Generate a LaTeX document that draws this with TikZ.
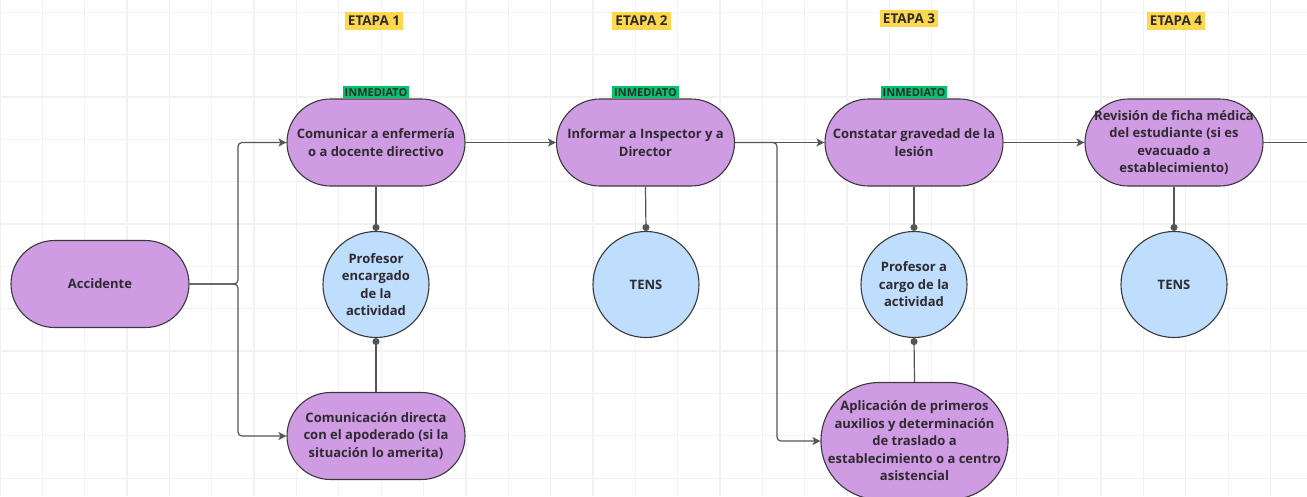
\documentclass[tikz,border=0pt]{standalone}
\usepackage{fontspec}
\setmainfont{Open Sans}
\usepackage{xcolor}
\usetikzlibrary{arrows.meta}

\definecolor{lilac}{HTML}{CF9BE3}
\definecolor{skyb}{HTML}{BFDDFC}
\definecolor{ambar}{HTML}{FFD84D}
\definecolor{verde}{HTML}{00C56B}
\definecolor{edgecol}{HTML}{3A3A3A}
\definecolor{linecol}{HTML}{555555}
\definecolor{txt}{HTML}{2E2A30}
\definecolor{gridcol}{HTML}{F2F2F2}

\begin{document}
\begin{tikzpicture}[x=1pt, y=-1pt,
  proc/.style={draw=edgecol, fill=lilac, line width=1.1pt, rounded corners=43.5pt,
    minimum width=178pt, minimum height=87pt, align=center, text=txt,
    font=\fontsize{13}{17.5}\selectfont\bfseries},
  role/.style={circle, draw=edgecol, fill=skyb, line width=1.1pt, minimum size=106pt,
    inner sep=0pt, align=center, text=txt, font=\fontsize{13}{17.5}\selectfont\bfseries},
  etapa/.style={fill=ambar, inner xsep=3pt, inner ysep=4pt, text=txt,
    font=\fontsize{13.5}{15}\selectfont\bfseries},
  tag/.style={fill=verde, inner xsep=2pt, inner ysep=2pt, text=txt,
    font=\fontsize{11}{13}\selectfont\bfseries},
  link/.style={draw=linecol, line width=1.2pt},
  arr/.style={link, rounded corners=4pt, -{Stealth[length=8pt, width=8pt, inset=2pt]}},
  dot/.style={link, -{Circle[length=7pt]}}]
  \useasboundingbox[fill=white] (0,0) rectangle (1307,496);
  \foreach \i in {0,...,30}
    \draw[gridcol, line width=1.3pt] (\i*42.35,0) -- (\i*42.35,496);
  \foreach \j in {0,...,11}
    \draw[gridcol, line width=1.3pt] (0,12.3+\j*42.35) -- (1307,12.3+\j*42.35);

  % etapas
  \node[etapa] (e1) at (374,21) {ETAPA 1};
  \node[etapa] (e2) at (641.5,21) {ETAPA 2};
  \node[etapa] (e3) at (909,18.5) {ETAPA 3};
  \node[etapa] (e4) at (1176,21) {ETAPA 4};

  \node[proc] (acc) at (100,284) {Accidente};
  \node[proc] (com) at (376,142.5) {Comunicar a enfermería\\o a docente directivo};
  \node[proc] (inf) at (645.5,142.5) {Informar a Inspector y a\\Director};
  \node[proc] (con) at (914,142.5) {Constatar gravedad de la\\lesión};
  \node[proc] (rev) at (1174,142.5) {Revisión de ficha médica\\del estudiante (si es\\evacuado a\\establecimiento)};
  \node[proc] (dir) at (376,436) {Comunicación directa\\con el apoderado (si la\\situación lo amerita)};
  \node[proc, minimum width=187pt, minimum height=117pt, rounded corners=58pt] (apl) at (914.5,441)
    {Aplicación de primeros\\auxilios y determinación\\de traslado a\\establecimiento o a centro\\asistencial};

  \node[tag, anchor=south] (t1) at (com.north) {INMEDIATO};
  \node[tag, anchor=south] (t2) at (inf.north) {INMEDIATO};
  \node[tag, anchor=south] (t3) at (con.north) {INMEDIATO};

  \node[role] (prof1) at (376,284.5) {Profesor\\encargado\\de la\\actividad};
  \node[role] (tens1) at (646,284.5) {TENS};
  \node[role] (prof2) at (914,284.5) {Profesor a\\cargo de la\\actividad};
  \node[role] (tens2) at (1174,284.5) {TENS};

  \coordinate (j1) at (238,284);
  \coordinate (j2) at (777,142.5);
  \coordinate (out) at (1307,142.5);

  \draw[arr] (acc.east) -- (j1) |- (com.west);
  \draw[arr] (acc.east) -- (j1) |- (dir.west);
  \draw[arr] (com.east) -- (inf.west);
  \draw[arr] (inf.east) -- (con.west);
  \draw[arr] (inf.east) -- (j2) |- (apl.west);
  \draw[arr] (con.east) -- (rev.west);
  \draw[link] (rev.east) -- (out);

  \draw[dot] (com.south) -- (prof1.north);
  \draw[dot] (dir.north) -- (prof1.south);
  \draw[dot] (inf.south) -- (tens1.north);
  \draw[dot] (con.south) -- (prof2.north);
  \draw[dot] (apl.north) -- (prof2.south);
  \draw[dot] (rev.south) -- (tens2.north);
\end{tikzpicture}
\end{document}
